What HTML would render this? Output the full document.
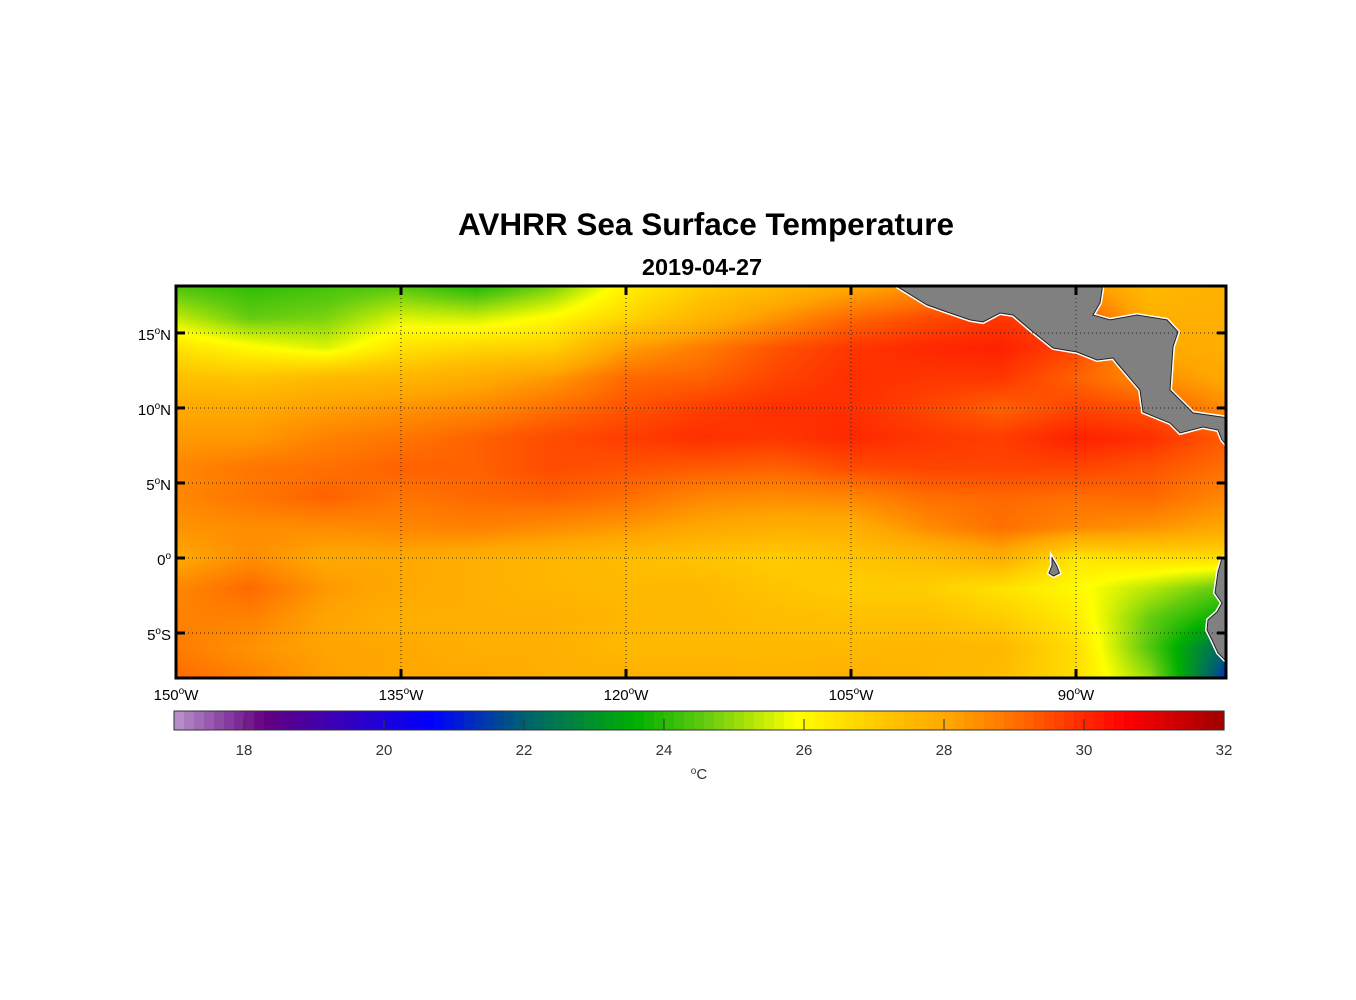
<!DOCTYPE html>
<html><head><meta charset="utf-8">
<style>
html,body{margin:0;padding:0;background:#fff;}
#wrap{position:relative;width:1356px;height:1000px;font-family:"Liberation Sans",Arial,sans-serif;}
canvas{position:absolute;left:176px;top:286px;}
svg{position:absolute;left:0;top:0;}
</style></head>
<body>
<div id="wrap">
<canvas id="sst" width="1050" height="392"></canvas>
<svg id="ov" width="1356" height="1000"></svg>
</div>
<script>
// ---- data ----
const lons = [-150,-145,-140,-135,-130,-125,-120,-115,-110,-105,-100,-95,-90,-85,-80];
const lats = [18,16,14,12,10,8,6,4,2,0,-2,-4,-6,-8];
const sst18 = [24.4,24.1,24.3,24.5,24.0,24.8,26.2,27,27.5,28,28.5,28.5,28.5,27.5,27.8];
const sst16 = [25.4,24.6,24.8,25.6,25.5,26,26.8,27.6,28.4,29.1,29.5,29.8,29.5,27.8,27.8];
const sst14 = [26.5,26,25.6,26.5,26.8,26.9,28.2,28.8,29.4,29.8,30.0,30.1,29.6,28,27.8];
const sst12 = [27.3,27.2,27.5,27.6,27.9,28.3,29.1,29.2,29.6,29.9,29.8,29.8,29.2,28.5,28];
const sst10 = [28,28,28.2,28.4,28.6,29.0,29.4,29.7,29.9,29.9,29.6,29.2,29.6,29.4,28.5];
const sst8 = [28.3,28.3,28.7,28.9,29.2,29.5,29.7,29.9,29.8,30.0,29.8,29.7,30.1,29.9,29.3];
const sst6 = [28.6,28.9,29.0,29.2,29.2,29.5,29.4,29.3,29.2,29.5,29.6,29.6,29.6,29.4,29.0];
const sst4 = [28.6,28.9,29.2,28.9,29.1,29.2,29.0,28.6,28.5,28.6,29.0,29.1,29.0,29.1,28.6];
const sst2 = [28.4,28.5,28.5,28.6,28.7,28.5,28.3,28,27.8,27.8,28.5,29.0,28.6,28.4,28.0];
const sst0 = [28,28.5,28,28,27.8,27.6,27.4,27.2,27,27.2,27.4,27.8,26.4,26.6,26.6];
const sstS2 = [28.6,29.1,28.3,28,27.8,27.6,27.5,27.5,27.2,27,27,26.5,26.0,25.3,24.5];
const sstS4 = [28.7,28.7,28.1,27.8,27.8,27.8,27.6,27.5,27.4,27.3,27.3,27.0,26.3,24.6,23.5];
const sstS6 = [28.8,28.4,28.1,28,27.8,27.8,27.5,27.5,27.5,27.5,27.6,27.5,26.6,24.4,22];
const sstS8 = [29.1,28.7,28.2,28,28,27.8,27.8,27.8,27.7,27.8,27.6,27.4,26.6,25,21.3];
const sstRows = [sst18,sst16,sst14,sst12,sst10,sst8,sst6,sst4,sst2,sst0,sstS2,sstS4,sstS6,sstS8];
const lonTicks = [-150,-135,-120,-105,-90];
const lonTickLabels = ["150","135","120","105","90"];
const latTicks = [15,10,5,0,-5];
const latTickLabels = ["15","10","5","0","5"];
const latTickSuffix = ["N","N","N","",'S'];
const cbTicks = [18,20,22,24,26,28,30,32];
// coastlines (lon, lat)
const centralAmerica = [[-102.2,18.3],[-101.87,18.07],[-99.93,16.87],[-98.6,16.4],[-97.07,15.87],[-96.2,15.73],[-95.07,16.33],[-94.2,16.2],[-92.87,15.07],[-91.53,14.0],[-89.93,13.73],[-88.6,13.2],[-87.53,13.33],[-87.27,13.0],[-85.73,11.2],[-85.53,9.73],[-83.73,9.0],[-83.07,8.33],[-81.53,8.73],[-80.53,8.53],[-80.27,7.87],[-79.8,7.33],[-79.8,9.33],[-82.2,9.67],[-83.73,11.2],[-83.53,14.07],[-83.2,15.07],[-83.93,15.87],[-85.93,16.2],[-87.73,15.87],[-88.87,16.2],[-88.4,17.0],[-88.2,18.3]];
const southAmerica = [[-79.8,0.1],[-80.27,0],[-80.53,-0.93],[-80.73,-2.33],[-80.27,-3.0],[-80.6,-3.6],[-81.2,-4.13],[-81.27,-4.8],[-80.93,-5.47],[-80.53,-6.33],[-80.07,-6.8],[-79.8,-6.9]];
const galapagos = [[-91.6,0],[-91.3,-0.5],[-91.1,-1.0],[-91.5,-1.2],[-91.8,-1.0],[-91.6,-0.5]];

// ---- axes ----
const X0=176,X1=1226,Y0=286,Y1=678, LAT_TOP=18.13, LAT_BOT=-8;
const xs = lon => X0 + (lon+150)/70*(X1-X0);
const ys = lat => Y0 + (LAT_TOP-lat)/(LAT_TOP-LAT_BOT)*(Y1-Y0);
const CB0=174, CB1=1224, CBMIN=17, CBMAX=32;
const cx = v => CB0 + (v-CBMIN)/(CBMAX-CBMIN)*(CB1-CB0);

const stops=[[17,[184,148,204]],[18.3,[100,0,128]],[20.7,[0,0,255]],[22,[0,96,112]],[23.6,[0,176,0]],[24.6,[100,204,16]],[25.9,[255,255,0]],[26.6,[255,222,0]],[27.3,[255,192,0]],[28.1,[255,165,0]],[29,[255,112,0]],[30,[255,40,0]],[30.6,[255,0,0]],[32,[160,0,0]]];
function cmap(v){
  if(v<=stops[0][0]) return stops[0][1];
  for(let i=1;i<stops.length;i++){ if(v<=stops[i][0]){const a=stops[i-1],b=stops[i];const t=(v-a[0])/(b[0]-a[0]);return a[1].map((c,k)=>Math.round(c+(b[1][k]-c)*t));}}
  return stops[stops.length-1][1];
}
function val(lon,lat){
  let fi=(lon-lons[0])/5; fi=Math.max(0,Math.min(lons.length-1.0001,fi));
  let fj=(lats[0]-lat)/2; fj=Math.max(0,Math.min(lats.length-1.0001,fj));
  const i=Math.floor(fi),j=Math.floor(fj),tx=fi-i,ty=fj-j;
  const a=sstRows[j][i],b=sstRows[j][i+1],c=sstRows[j+1][i],d=sstRows[j+1][i+1];
  return (a*(1-tx)+b*tx)*(1-ty)+(c*(1-tx)+d*tx)*ty;
}
// heatmap
const cv=document.getElementById('sst'),ctx=cv.getContext('2d');
const W=1050,H=392,img=ctx.createImageData(W,H);
for(let py=0;py<H;py++){const lat=LAT_TOP-(py+0.5)/H*(LAT_TOP-LAT_BOT);
  for(let px=0;px<W;px++){const lon=-150+(px+0.5)/W*70;const c=cmap(val(lon,lat));const k=(py*W+px)*4;img.data[k]=c[0];img.data[k+1]=c[1];img.data[k+2]=c[2];img.data[k+3]=255;}}
ctx.putImageData(img,0,0);

// ---- svg ----
const NS='http://www.w3.org/2000/svg', svg=document.getElementById('ov');
function mk(tag,attrs,parent){const e=document.createElementNS(NS,tag);for(const k in attrs)e.setAttribute(k,attrs[k]);(parent||svg).appendChild(e);return e;}
function txt(x,y,s,attrs){const t=mk('text',Object.assign({x:x,y:y},attrs));t.innerHTML=s;return t;}

const clip=mk('clipPath',{id:'mapclip'});mk('rect',{x:X0,y:Y0,width:X1-X0,height:Y1-Y0},clip);
const landG=mk('g',{'clip-path':'url(#mapclip)'});
function polyIn(pts,name){
  const d=pts.map(p=>xs(p[0]).toFixed(1)+','+ys(p[1]).toFixed(1)).join(' ');
  const w=mk('polygon',{points:d,fill:'none',stroke:'#fff','stroke-width':4},landG);
  
  
  const p=mk('polygon',{points:d,fill:'#808080',stroke:'#222','stroke-width':1},landG);
  
  
}
polyIn(centralAmerica,'central-america-land');
polyIn(southAmerica,'south-america-land');
polyIn(galapagos,'galapagos-island');

// gridlines
latTicks.forEach(l=>{const g=mk('line',{x1:X0,x2:X1,y1:ys(l),y2:ys(l),stroke:'#222','stroke-width':1,'stroke-dasharray':'1,3'});
  
  });
lonTicks.slice(1).forEach(l=>{const g=mk('line',{x1:xs(l),x2:xs(l),y1:Y0,y2:Y1,stroke:'#222','stroke-width':1,'stroke-dasharray':'1,3'});
  
  });
// ticks
latTicks.forEach(l=>{const y=ys(l);mk('line',{x1:X0,x2:X0+9,y1:y,y2:y,stroke:'#000','stroke-width':3});mk('line',{x1:X1-9,x2:X1,y1:y,y2:y,stroke:'#000','stroke-width':3});});
lonTicks.forEach(l=>{const x=xs(l);mk('line',{x1:x,x2:x,y1:Y0,y2:Y0+9,stroke:'#000','stroke-width':3});mk('line',{x1:x,x2:x,y1:Y1-9,y2:Y1,stroke:'#000','stroke-width':3});});
// frame
const fr=mk('rect',{x:X0,y:Y0,width:X1-X0,height:Y1-Y0,fill:'none',stroke:'#000','stroke-width':3});


// tick labels
latTicks.forEach((l,i)=>{const t=txt(171,ys(l)+7,latTickLabels[i]+'<tspan font-size="10" dy="-6">o</tspan><tspan dy="6">'+latTickSuffix[i]+'</tspan>',{'font-size':15,'text-anchor':'end',fill:'#000'});
  
  });
lonTicks.forEach((l,i)=>{const t=txt(xs(l),700,lonTickLabels[i]+'<tspan font-size="10" dy="-6">o</tspan><tspan dy="6">W</tspan>',{'font-size':15,'text-anchor':'middle',fill:'#000'});
  
  });
// title
const t1=txt(706,235,'AVHRR Sea Surface Temperature',{'font-size':31.5,'font-weight':'bold','text-anchor':'middle',fill:'#000'});


const t2=txt(702,275,'2019-04-27',{'font-size':23.5,'font-weight':'bold','text-anchor':'middle',fill:'#000'});


// colorbar
const cbG=mk('g',{});


const step=1/7;
for(let v=CBMIN;v<CBMAX-1e-6;v+=step){const c=cmap(v+step/2);mk('rect',{x:cx(v),y:711,width:cx(v+step)-cx(v)+0.6,height:19,fill:'rgb('+c.join(',')+')'},cbG);}
mk('rect',{x:CB0,y:711,width:CB1-CB0,height:19,fill:'none',stroke:'#333','stroke-width':1},cbG);
cbTicks.forEach(v=>{mk('line',{x1:cx(v),x2:cx(v),y1:719,y2:730,stroke:'#333','stroke-width':1},cbG);
  const t=txt(cx(v),755,String(v),{'font-size':15,'text-anchor':'middle',fill:'#333'});
  
  });
const u=txt(699,779,'<tspan font-size="10" dy="-5">o</tspan><tspan dy="5">C</tspan>',{'font-size':15,'text-anchor':'middle',fill:'#333'});


</script>
</body></html>
